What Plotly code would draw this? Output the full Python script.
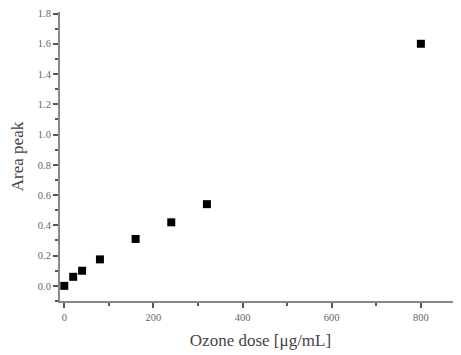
import plotly.graph_objects as go

ozone_dose = [0, 20, 40, 80, 160, 240, 320, 800]
area_peak = [0.0, 0.06, 0.10, 0.175, 0.31, 0.42, 0.54, 1.60]

x_ticks = [0, 200, 400, 600, 800]
y_ticks = [0.0, 0.2, 0.4, 0.6, 0.8, 1.0, 1.2, 1.4, 1.6, 1.8]

fig = go.Figure(go.Scatter(
    x=ozone_dose, y=area_peak, mode="markers",
    marker=dict(symbol="square", size=8, color="black"),
    cliponaxis=False,
))

axis_common = dict(
    showgrid=False, zeroline=False, showline=True, linecolor="#888888", linewidth=2,
    ticks="outside", ticklen=5, tickwidth=1.5, tickcolor="#555555",
    tickfont=dict(family="Liberation Serif", size=10.5, color="#666666"),
    automargin=False,
)

title_font = dict(family="Liberation Serif", size=17, color="#444444")

# page body has an 8px margin, so the figure is sized/offset to compensate
fig.update_layout(
    width=453, height=347,
    margin=dict(l=52, r=0, t=4, b=54),
    plot_bgcolor="white", paper_bgcolor="white",
    showlegend=False,
    xaxis=dict(
        range=[-9.6, 890], tickvals=x_ticks, ticktext=[str(v) for v in x_ticks],
        minor=dict(dtick=100, tick0=0, ticks="outside", ticklen=3, tickcolor="#555555"),
        title=dict(text="Ozone dose [μg/mL]", font=title_font, standoff=13),
        **axis_common,
    ),
    yaxis=dict(
        range=[-0.1, 1.81], tickvals=y_ticks, ticktext=[f"{v:.1f}" for v in y_ticks],
        minor=dict(dtick=0.1, tick0=0, ticks="outside", ticklen=3, tickcolor="#555555"),
        title=dict(text="Area peak", font=title_font, standoff=12),
        **axis_common,
    ),
)

fig.write_html("out.html")
